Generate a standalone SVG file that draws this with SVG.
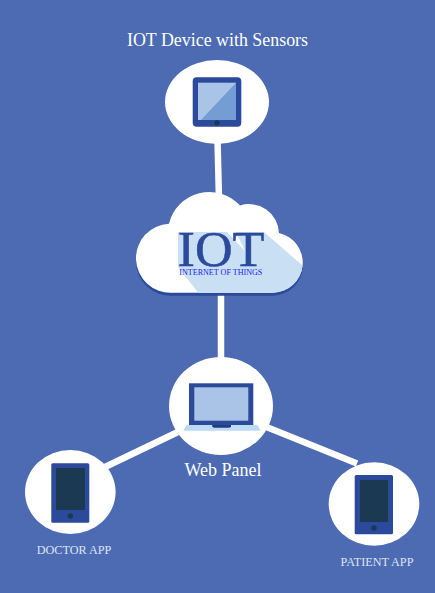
<svg xmlns="http://www.w3.org/2000/svg" width="435" height="593" viewBox="0 0 435 593">
<style>
.bubble{fill:#fff}
.link{stroke:#fff;stroke-width:6.5;fill:none}
.body{fill:#2b4a9b}
.dark{fill:#1b3a52}
.t{font-family:"Liberation Serif","Times New Roman",serif}
.lbl{fill:#fff}
.sub{fill:#dfe5f3;font-size:12.200px}
</style>
<defs>
<path id="cloudShape" d="M172 292.700A34.500 34.500 0 0 1 169 223.700A41.500 41.500 0 0 1 240 205.500A30 30 0 0 1 279 233A30.200 30.200 0 0 1 273 292.700Z"/>
<clipPath id="cloudClip"><use href="#cloudShape"/></clipPath>
</defs>
<rect width="435" height="593" fill="#4c6bb3"/>
<g id="connectors">
<line class="link" x1="217.500" y1="140" x2="219" y2="200"/>
<line class="link" x1="221" y1="288" x2="221" y2="362"/>
<line class="link" x1="105" y1="467" x2="180" y2="431"/>
<line class="link" x1="264" y1="426" x2="357" y2="463.500"/>
</g>
<g id="iot-device">
<ellipse class="bubble" cx="217" cy="102" rx="52" ry="42"/>
<rect class="body" x="192.700" y="77.300" width="48.600" height="49.400" rx="4"/>
<rect x="198" y="82.700" width="38" height="37.300" fill="#a9c4e6"/>
<path d="M236 82.700V120H201Z" fill="#739dd3"/>
<circle class="dark" cx="217" cy="122.800" r="2.600"/>
<text class="t lbl" x="217.500" y="46" font-size="17.900" text-anchor="middle">IOT Device with Sensors</text>
</g>
<g id="iot-cloud">
<use href="#cloudShape" y="3" fill="#2b4a9b"/>
<use href="#cloudShape" class="bubble"/>
<path clip-path="url(#cloudClip)" fill="#c9dff4" d="M178 232H227L245 251L236 232H264L310 272V300H204L178 267Z"/>
<text class="t" x="177.500" y="266" font-size="50" textLength="87" lengthAdjust="spacingAndGlyphs" fill="#2b4a9b" stroke="#2b4a9b" stroke-width="0.500">IOT</text>
<text class="t" x="179.300" y="275" font-size="8.300" textLength="83" lengthAdjust="spacingAndGlyphs" fill="#1a1aff">INTERNET OF THINGS</text>
</g>
<g id="web-panel">
<ellipse class="bubble" cx="221" cy="406" rx="52" ry="49"/>
<rect class="body" x="189" y="383.300" width="64.300" height="41.700"/>
<rect x="194.300" y="387.300" width="54" height="33.400" fill="#a9c4e6"/>
<path d="M186.500 425H257.500L260.700 430.700H183.300Z" fill="#bcdaf3"/>
<path d="M212.300 425H231V427L229 427.800H214.300L212.300 427Z" fill="#1f3c80"/>
<text class="t lbl" x="223" y="475.500" font-size="18" text-anchor="middle">Web Panel</text>
</g>
<g id="doctor-app">
<ellipse class="bubble" cx="70.300" cy="492" rx="45.300" ry="42"/>
<rect class="body" x="51.300" y="463.300" width="38" height="59.400" rx="1.500"/>
<rect class="dark" x="56" y="468" width="29" height="42"/>
<circle class="dark" cx="70.300" cy="516" r="2.700"/>
<text class="t sub" x="74" y="553.500" text-anchor="middle">DOCTOR APP</text>
</g>
<g id="patient-app">
<ellipse class="bubble" cx="374" cy="504" rx="45.300" ry="41.700"/>
<rect class="body" x="354.700" y="475" width="38.300" height="59.300" rx="1.500"/>
<rect class="dark" x="360" y="480" width="28" height="42"/>
<circle class="dark" cx="374" cy="528" r="2.700"/>
<text class="t sub" x="377" y="565.500" text-anchor="middle">PATIENT APP</text>
</g>
</svg>
